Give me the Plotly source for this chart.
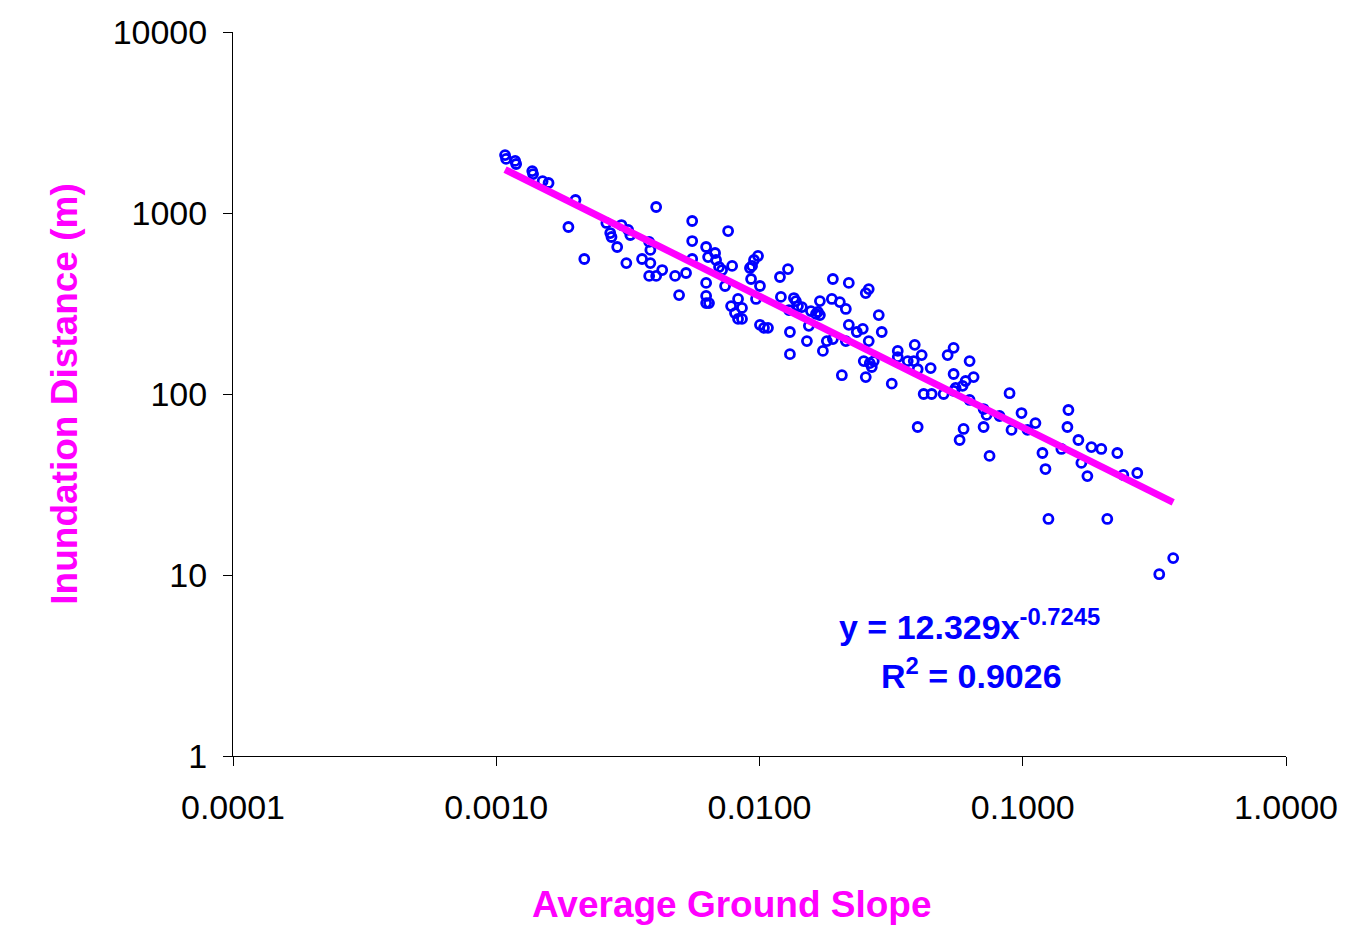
import numpy as np
import plotly.graph_objects as go

# Average ground slope (dimensionless) and inundation distance (m)
slope = [
    0.00108, 0.00109, 0.00118, 0.00119, 0.00137, 0.00138, 0.00150, 0.00158,
    0.00200, 0.00188, 0.00216, 0.00262, 0.00299, 0.00317, 0.00323, 0.00271,
    0.00274, 0.00288, 0.00312, 0.00405, 0.00381, 0.00385, 0.00358, 0.00385,
    0.00427, 0.00381, 0.00405, 0.00478, 0.00495, 0.00526, 0.00555, 0.00760,
    0.00555, 0.00627, 0.00678, 0.00684, 0.00638, 0.00555, 0.00702, 0.00721,
    0.00787, 0.00987, 0.00953, 0.00937, 0.00920, 0.00627, 0.00627, 0.00627,
    0.00643, 0.00740, 0.00929, 0.01004, 0.00829, 0.00780, 0.00858, 0.00807,
    0.00829, 0.00858, 0.00970, 0.01004, 0.01040, 0.01077, 0.01196, 0.01283,
    0.01206, 0.01305, 0.01305, 0.01351, 0.01375, 0.01400, 0.01449, 0.01294,
    0.01514, 0.01540, 0.01696, 0.01568, 0.01638, 0.01696, 0.01666, 0.01900,
    0.02184, 0.02533, 0.02600, 0.01883, 0.02019, 0.02128, 0.01741, 0.01802,
    0.01900, 0.02184, 0.02342, 0.02468, 0.02128, 0.02600, 0.02838, 0.02913,
    0.02489, 0.02624, 0.02717, 0.02670, 0.02055, 0.02533, 0.03180, 0.03351,
    0.03351, 0.03888, 0.04131, 0.03656, 0.03854, 0.03989, 0.04469, 0.04204,
    0.04508, 0.05006, 0.05184, 0.05462, 0.06282, 0.05462, 0.06066, 0.06506,
    0.05559, 0.05909, 0.06282, 0.07101, 0.07290, 0.03989, 0.05960, 0.07101,
    0.05462, 0.08910, 0.08163, 0.05756, 0.09064, 0.09892, 0.10423, 0.11175,
    0.07480, 0.11880, 0.12200, 0.14020, 0.14910, 0.14780, 0.16270, 0.16700,
    0.17600, 0.18230, 0.19880, 0.22870, 0.24100, 0.27230, 0.12520, 0.20950,
    0.37280, 0.33000,
]
distance = [
    2090, 1990, 1940, 1865, 1705, 1640, 1500, 1465,
    1180, 837, 557, 881, 858, 806, 756, 775,
    737, 649, 529, 1079, 692, 625, 557, 529,
    484, 449, 449, 449, 352, 466, 903, 795,
    700, 649, 601, 550, 571, 557, 503, 484,
    510, 579, 550, 510, 497, 411, 348, 318,
    318, 395, 432, 395, 335, 306, 299, 280,
    260, 260, 335, 241, 232, 232, 443, 490,
    344, 220, 166, 339, 326, 306, 302, 291,
    196, 238, 326, 287, 277, 273, 284, 432,
    411, 361, 380, 335, 322, 295, 173, 196,
    201, 241, 220, 229, 196, 196, 273, 220,
    152, 148, 152, 141, 127, 124, 114, 173,
    160, 187, 164, 152, 152, 137, 139, 100,
    100, 100, 164, 180, 152, 129, 118, 124,
    108, 111, 92.7, 82.6, 76.6, 65.7, 64.1, 65.7,
    104, 101, 75.6, 55.7, 63.3, 78.5, 63.3, 69.1,
    45.5, 47.2, 38.5, 49.7, 81.6, 65.7, 55.7, 41.6,
    35.2, 50.9, 49.7, 47.2, 35.7, 36.6, 20.4, 20.4,
    12.4, 10.1,
]

# Power-law trendline: y = a * x^b
fit_a = 12.329
fit_b = -0.7245
fit_r2 = 0.9026

x_tick_vals = [0.0001, 0.001, 0.01, 0.1, 1.0]
x_tick_text = ["0.0001", "0.0010", "0.0100", "0.1000", "1.0000"]
y_tick_vals = [1, 10, 100, 1000, 10000]
y_tick_text = ["1", "10", "100", "1000", "10000"]

BLUE = "#0000FF"
MAGENTA = "#FF00FF"
FONT = "Liberation Sans, Arial, sans-serif"

fit_x = np.logspace(np.log10(min(slope)), np.log10(max(slope)), 200)
fit_y = fit_a * fit_x ** fit_b

fig = go.Figure()
fig.add_trace(go.Scatter(
    x=slope, y=distance, mode="markers",
    marker=dict(symbol="circle-open", size=9, color=BLUE,
                line=dict(color=BLUE, width=2.8)),
    showlegend=False, cliponaxis=False,
))
fig.add_trace(go.Scatter(
    x=fit_x, y=fit_y, mode="lines",
    line=dict(color=MAGENTA, width=7),
    showlegend=False,
))

fig.update_xaxes(
    type="log", range=[-4, 0],
    tickvals=x_tick_vals, ticktext=x_tick_text,
    ticks="outside", ticklen=9, tickcolor="black", tickwidth=1,
    ticklabelstandoff=12,
    showline=True, linecolor="black", linewidth=1,
    showgrid=False, zeroline=False,
    tickfont=dict(family=FONT, size=34, color="black"),
)
fig.update_yaxes(
    type="log", range=[0, 4],
    tickvals=y_tick_vals, ticktext=y_tick_text,
    ticks="outside", ticklen=9, tickcolor="black", tickwidth=1,
    ticklabelstandoff=9,
    showline=True, linecolor="black", linewidth=1,
    showgrid=False, zeroline=False,
    tickfont=dict(family=FONT, size=34, color="black"),
    title=dict(text="<b>Inundation Distance (m)</b>", standoff=23,
               font=dict(family=FONT, size=37, color=MAGENTA)),
)

# x-axis title sits slightly left of the plot-area centre
fig.add_annotation(
    xref="paper", yref="paper", x=0.474, y=-0.2058,
    text="<b>Average Ground Slope</b>",
    showarrow=False, xanchor="center", yanchor="middle",
    font=dict(family=FONT, size=37, color=MAGENTA),
)

fig.add_annotation(
    xref="paper", yref="paper", x=0.699, y=0.181,
    text=f"<b>y = {fit_a}x<sup>{fit_b}</sup></b>",
    showarrow=False, xanchor="center", yanchor="middle",
    font=dict(family=FONT, size=34, color=BLUE),
)
fig.add_annotation(
    xref="paper", yref="paper", x=0.701, y=0.1146,
    text=f"<b>R<sup>2</sup> = {fit_r2}</b>",
    showarrow=False, xanchor="center", yanchor="middle",
    font=dict(family=FONT, size=34, color=BLUE),
)

fig.update_layout(
    width=1350, height=943,
    margin=dict(l=233, r=62, t=32, b=187),
    plot_bgcolor="white", paper_bgcolor="white",
)

fig.write_html("out.html")
